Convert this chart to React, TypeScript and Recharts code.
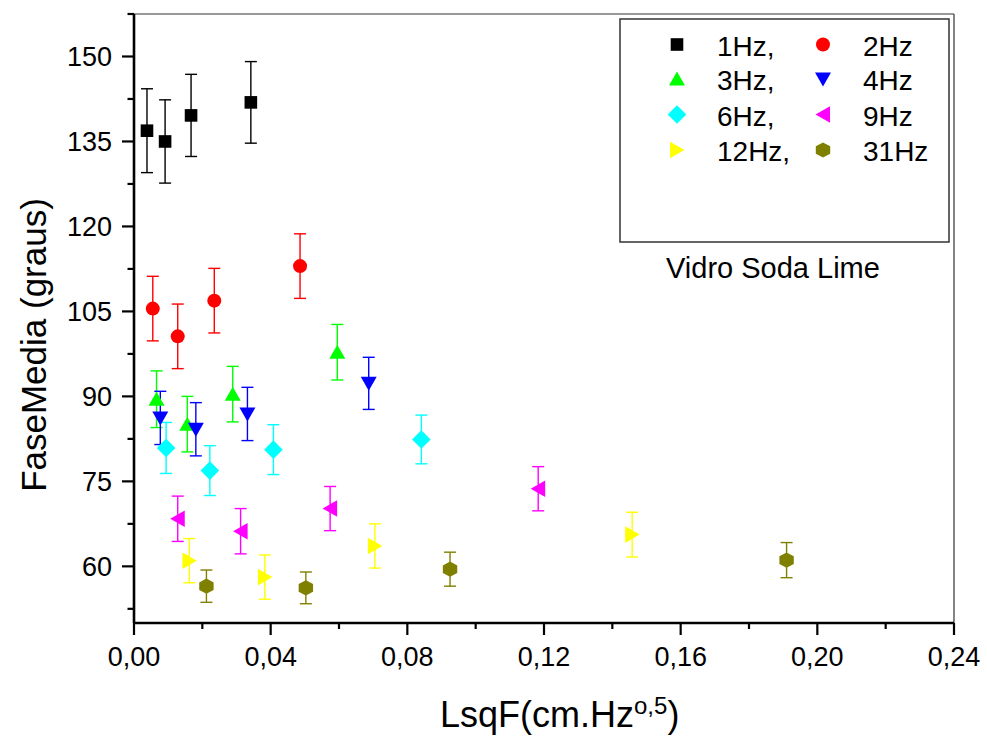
import React from 'react';
import { ScatterChart, Scatter, XAxis, YAxis, ErrorBar, ReferenceLine, Label } from 'recharts';

// ---- data ----
const x1Hz = [0.0038, 0.0091, 0.0167, 0.0342];
const y1Hz = [136.9, 135.0, 139.6, 141.9];
const e1Hz = [7.4, 7.35, 7.25, 7.2];

const x2Hz = [0.0055, 0.0128, 0.0235, 0.0486];
const y2Hz = [105.5, 100.6, 106.9, 113.0];
const e2Hz = [5.7, 5.7, 5.7, 5.7];

const x3Hz = [0.0066, 0.0156, 0.0289, 0.0595];
const y3Hz = [89.5, 85.1, 90.4, 97.8];
const e3Hz = [5.0, 4.9, 4.9, 4.9];

const x4Hz = [0.0077, 0.0181, 0.0332, 0.0687];
const y4Hz = [86.2, 84.2, 86.9, 92.3];
const e4Hz = [4.7, 4.7, 4.7, 4.6];

const x6Hz = [0.0094, 0.0222, 0.0408, 0.0841];
const y6Hz = [80.9, 76.9, 80.6, 82.4];
const e6Hz = [4.5, 4.4, 4.4, 4.3];

const x9Hz = [0.0128, 0.0312, 0.0574, 0.1183];
const y9Hz = [68.4, 66.2, 70.2, 73.7];
const e9Hz = [4.0, 4.0, 3.9, 3.9];

const x12Hz = [0.0162, 0.0383, 0.0705, 0.1458];
const y12Hz = [61.0, 58.1, 63.6, 65.6];
const e12Hz = [3.9, 3.9, 3.9, 3.95];

const x31Hz = [0.0212, 0.0503, 0.0925, 0.191];
const y31Hz = [56.5, 56.2, 59.5, 61.1];
const e31Hz = [2.85, 2.8, 3.0, 3.1];

const xMajorTicks = [0, 0.04, 0.08, 0.12, 0.16, 0.2, 0.24];
const xMinorTicks = [0.02, 0.06, 0.1, 0.14, 0.18, 0.22];
const yMajorTicks = [60, 75, 90, 105, 120, 135, 150];
const yMinorTicks = [52.5, 67.5, 82.5, 97.5, 112.5, 127.5, 142.5, 157.5];
const xDomain = [0, 0.24];
const yDomain = [50, 157.5];

const build = (xs: number[], ys: number[], es: number[]) =>
  xs.map((x, i) => ({ x, y: ys[i], err: es[i] }));

type Kind = 'square' | 'circle' | 'up' | 'down' | 'diamond' | 'left' | 'right' | 'hex';

const SERIES: { name: string; color: string; kind: Kind; data: any[] }[] = [
  { name: '1Hz,', color: '#000000', kind: 'square', data: build(x1Hz, y1Hz, e1Hz) },
  { name: '2Hz', color: '#FF0000', kind: 'circle', data: build(x2Hz, y2Hz, e2Hz) },
  { name: '3Hz,', color: '#00FF00', kind: 'up', data: build(x3Hz, y3Hz, e3Hz) },
  { name: '4Hz', color: '#0000FF', kind: 'down', data: build(x4Hz, y4Hz, e4Hz) },
  { name: '6Hz,', color: '#00FFFF', kind: 'diamond', data: build(x6Hz, y6Hz, e6Hz) },
  { name: '9Hz', color: '#FF00FF', kind: 'left', data: build(x9Hz, y9Hz, e9Hz) },
  { name: '12Hz,', color: '#FFFF00', kind: 'right', data: build(x12Hz, y12Hz, e12Hz) },
  { name: '31Hz', color: '#808000', kind: 'hex', data: build(x31Hz, y31Hz, e31Hz) },
];

const FONT = '"Liberation Sans", Arial, Helvetica, sans-serif';

function Sym({ kind, cx, cy, color }: { kind: Kind; cx: number; cy: number; color: string }) {
  const p = (pts: number[][]) => pts.map((q) => `${cx + q[0]},${cy + q[1]}`).join(' ');
  switch (kind) {
    case 'square':
      return <rect x={cx - 6.3} y={cy - 6.3} width={12.6} height={12.6} fill={color} />;
    case 'circle':
      return <circle cx={cx} cy={cy} r={7} fill={color} />;
    case 'up':
      return <polygon points={p([[0, -7.5], [8, 6.5], [-8, 6.5]])} fill={color} />;
    case 'down':
      return <polygon points={p([[0, 7.5], [8, -6.5], [-8, -6.5]])} fill={color} />;
    case 'diamond':
      return <polygon points={p([[0, -9.3], [9.3, 0], [0, 9.3], [-9.3, 0]])} fill={color} />;
    case 'left':
      return <polygon points={p([[-7.5, 0], [7, -8.3], [7, 8.3]])} fill={color} />;
    case 'right':
      return <polygon points={p([[7.5, 0], [-7, -8.3], [-7, 8.3]])} fill={color} />;
    case 'hex':
    default:
      return (
        <polygon
          points={p([[0, -7.6], [7.2, -3.8], [7.2, 3.8], [0, 7.6], [-7.2, 3.8], [-7.2, -3.8]])}
          fill={color}
        />
      );
  }
}

const isIn = (v: number, arr: number[]) => arr.some((a) => Math.abs(a - v) < 1e-9);
const fmtX = (v: number) => v.toFixed(2).replace('.', ',');

const X_TICK_SIZE = 10;
const X_TICK_MARGIN = 14;
const Y_TICK_SIZE = 12;
const Y_TICK_MARGIN = 10;

const XTick = (props: any) => {
  const { x, y, payload } = props;
  const v = payload.value;
  const major = isIn(v, xMajorTicks);
  const axisY = y - X_TICK_SIZE - X_TICK_MARGIN;
  return (
    <g>
      <line x1={x} x2={x} y1={axisY} y2={axisY + (major ? 12 : 6)} stroke="#000" strokeWidth={2.2} />
      {major && (
        <text x={x} y={y} dy="0.71em" textAnchor="middle" fontFamily={FONT} fontSize={27} fill="#000">
          {fmtX(v)}
        </text>
      )}
    </g>
  );
};

const YTick = (props: any) => {
  const { x, y, payload } = props;
  const v = payload.value;
  const major = isIn(v, yMajorTicks);
  const axisX = x + Y_TICK_SIZE + Y_TICK_MARGIN;
  return (
    <g>
      <line x1={axisX - (major ? 12 : 6.5)} x2={axisX} y1={y} y2={y} stroke="#000" strokeWidth={2.2} />
      {major && (
        <text x={x} y={y} dy="0.36em" textAnchor="end" fontFamily={FONT} fontSize={27} fill="#000">
          {String(v)}
        </text>
      )}
    </g>
  );
};

const legendCols = [
  { symX: 677, textX: 717 },
  { symX: 823, textX: 863 },
];
const legendRows = [45.5, 80, 115.5, 151];

export default function App() {
  const xTicks = [...xMajorTicks, ...xMinorTicks].sort((a, b) => a - b);
  const yTicks = [...yMajorTicks, ...yMinorTicks].sort((a, b) => a - b);
  return (
    <div style={{ position: 'absolute', left: 0, top: 0, width: 987, height: 738, background: '#fff' }}>
      <ScatterChart
        width={987}
        height={738}
        margin={{ top: 14, right: 33, bottom: 55, left: 60 }}
      >
        <XAxis
          type="number"
          dataKey="x"
          domain={xDomain}
          allowDataOverflow
          ticks={xTicks}
          interval={0}
          tickSize={X_TICK_SIZE}
          tickMargin={X_TICK_MARGIN}
          tickLine={false}
          tick={<XTick />}
          axisLine={{ stroke: '#000', strokeWidth: 2.6 }}
          height={60}
        >
          <Label
            content={() => (
              <text x={440} y={727} fontFamily={FONT} fontSize={36} fill="#000">
                LsqF(cm.Hz
                <tspan fontSize={24} dy={-13}>o,5</tspan>
                <tspan dy={13}>)</tspan>
              </text>
            )}
          />
        </XAxis>
        <YAxis
          type="number"
          dataKey="y"
          domain={yDomain}
          allowDataOverflow
          ticks={yTicks}
          interval={0}
          tickSize={Y_TICK_SIZE}
          tickMargin={Y_TICK_MARGIN}
          tickLine={false}
          tick={<YTick />}
          axisLine={{ stroke: '#000', strokeWidth: 2.6 }}
          width={74}
        >
          <Label
            content={() => (
              <text
                x={46}
                y={345}
                transform="rotate(-90, 46, 345)"
                textAnchor="middle"
                fontFamily={FONT}
                fontSize={35}
                fill="#000"
              >
                FaseMedia (graus)
              </text>
            )}
          />
        </YAxis>
        <ReferenceLine y={157.5} stroke="#333" strokeWidth={1.2} />
        <ReferenceLine x={0.24} stroke="#333" strokeWidth={1.2} />
        {SERIES.map((s) => (
          <Scatter
            key={s.name}
            name={s.name}
            data={s.data}
            fill={s.color}
            isAnimationActive={false}
            shape={(props: any) => <Sym kind={s.kind} cx={props.cx} cy={props.cy} color={s.color} />}
          >
            <ErrorBar dataKey="err" direction="y" width={6} stroke={s.color} strokeWidth={1.4} />
          </Scatter>
        ))}
      </ScatterChart>
      <svg
        width={987}
        height={738}
        style={{ position: 'absolute', left: 0, top: 0, pointerEvents: 'none' }}
      >
        <rect x={620} y={19} width={329} height={223} fill="none" stroke="#333" strokeWidth={1.5} />
        {SERIES.map((s, i) => {
          const col = legendCols[i % 2];
          const row = legendRows[Math.floor(i / 2)];
          return (
            <g key={s.name}>
              <Sym kind={s.kind} cx={col.symX} cy={row - 1} color={s.color} />
              <text x={col.textX} y={row} dy="0.36em" fontFamily={FONT} fontSize={28} fill="#000">
                {s.name}
              </text>
            </g>
          );
        })}
        <text x={666} y={278} fontFamily={FONT} fontSize={29} fill="#000">
          Vidro Soda Lime
        </text>
      </svg>
    </div>
  );
}
